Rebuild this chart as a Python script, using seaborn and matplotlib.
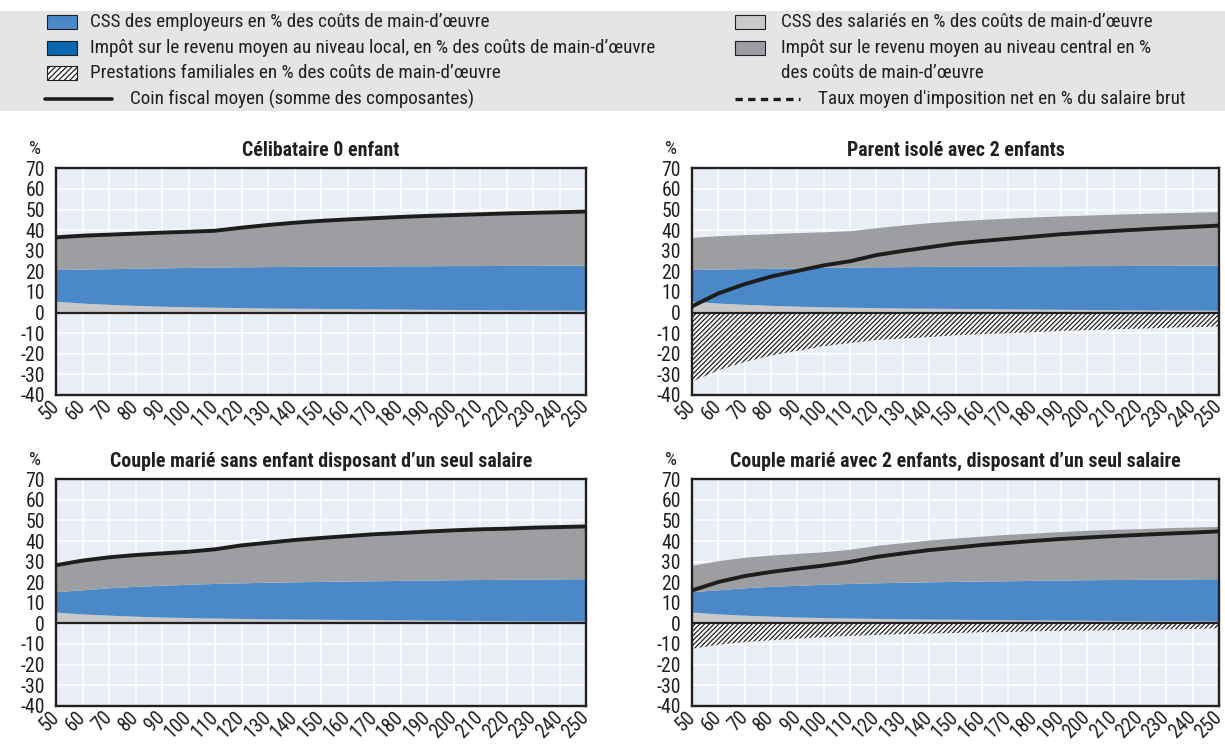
import numpy as np
import matplotlib
matplotlib.use("Agg")
import matplotlib.pyplot as plt
import seaborn as sns
from matplotlib import font_manager as fm
from matplotlib.patches import Rectangle
from matplotlib.lines import Line2D

# ---------------- data ----------------
salaire = [50, 60, 70, 80, 90, 100, 110, 120, 130, 140, 150, 160, 170, 180, 190, 200, 210, 220, 230, 240, 250]

# CSS des salariés (identique pour tous les ménages)
css_salaries = [5.5, 4.6, 4.0, 3.5, 3.1, 2.8, 2.6, 2.4, 2.2, 2.1, 2.0, 1.9, 1.8, 1.7, 1.6, 1.5, 1.4, 1.3, 1.2, 1.2, 1.1]

# Célibataire / parent isolé
css_employeurs_seul = [15.4, 16.5, 17.3, 18.0, 18.6, 19.1, 19.5, 19.8, 20.1, 20.3, 20.5, 20.7, 20.8, 21.0, 21.1, 21.3, 21.4, 21.6, 21.7, 21.8, 21.9]
impot_central_seul = [15.6, 16.2, 16.5, 16.8, 17.1, 17.3, 17.6, 19.0, 20.2, 21.2, 22.0, 22.6, 23.2, 23.7, 24.2, 24.5, 24.9, 25.2, 25.5, 25.7, 26.0]

# Couple marié (un seul salaire)
css_employeurs_couple = [9.9, 11.7, 13.3, 14.5, 15.4, 16.2, 16.8, 17.3, 17.8, 18.1, 18.4, 18.7, 18.9, 19.2, 19.4, 19.7, 19.9, 20.1, 20.3, 20.4, 20.6]
impot_central_couple = [12.9, 14.2, 14.8, 15.2, 15.5, 15.8, 16.6, 18.2, 19.2, 20.3, 21.1, 21.8, 22.6, 23.0, 23.6, 24.0, 24.4, 24.6, 25.0, 25.2, 25.4]

# Impôt local (nul)
impot_local = [0.0] * 21

# Prestations familiales
prest_zero = [0.0] * 21
prest_parent = [-33.5, -28.0, -24.0, -20.8, -18.6, -16.3, -14.8, -13.3, -12.6, -11.9, -11.0, -10.5, -10.0, -9.5, -8.9, -8.5, -8.1, -7.8, -7.4, -7.1, -6.8]
prest_couple_enf = [-12.3, -10.4, -9.1, -8.2, -7.4, -6.7, -6.1, -5.6, -5.2, -4.9, -4.7, -4.3, -4.2, -3.8, -3.6, -3.5, -3.3, -3.0, -2.9, -2.7, -2.4]

titres = ["Célibataire 0 enfant",
          "Parent isolé avec 2 enfants",
          "Couple marié sans enfant disposant d\u2019un seul salaire",
          "Couple marié avec 2 enfants, disposant d\u2019un seul salaire"]

legende_gauche = ["CSS des employeurs en % des coûts de main-d\u2019œuvre",
                  "Impôt sur le revenu moyen au niveau local, en % des coûts de main-d\u2019œuvre",
                  "Prestations familiales en % des coûts de main-d\u2019œuvre",
                  "Coin fiscal moyen (somme des composantes)"]
legende_droite = ["CSS des salariés en % des coûts de main-d\u2019œuvre",
                  "Impôt sur le revenu moyen au niveau central en %\ndes coûts de main-d\u2019œuvre",
                  "Taux moyen d'imposition net en % du salaire brut"]

panels = [
    (titres[0], css_employeurs_seul, impot_central_seul, prest_zero),
    (titres[1], css_employeurs_seul, impot_central_seul, prest_parent),
    (titres[2], css_employeurs_couple, impot_central_couple, prest_zero),
    (titres[3], css_employeurs_couple, impot_central_couple, prest_couple_enf),
]

# ---------------- style ----------------
C_LGRAY = "#c9c9c9"
C_BLUE = "#4a88c7"
C_DBLUE = "#0a68b1"
C_DGRAY = "#9d9ea2"
C_BG = "#e8edf6"
C_DARK = "#231f20"

sns.set_theme(style="white")

# choose a narrow font if one is installed
entries = [(f.name, str(f.stretch).lower()) for f in fm.fontManager.ttflist]
names = {n for n, _ in entries}
FAM, STRETCH, SCALE = ['DejaVu Sans'], 'normal', 0.80
for cand in ['Liberation Sans Narrow', 'Roboto Condensed', 'Noto Sans Condensed',
             'Open Sans Condensed', 'DejaVu Sans Condensed']:
    if cand in names:
        FAM, STRETCH, SCALE = [cand, 'DejaVu Sans'], 'normal', 1.0
        break
else:
    for fam in ['Roboto', 'Noto Sans', 'Open Sans', 'DejaVu Sans']:
        if any(n == fam and ('condensed' in s or s in ('300', '200', '100', 'semi-condensed'))
               for n, s in entries):
            FAM, STRETCH, SCALE = [fam, 'DejaVu Sans'], 'condensed', 1.0
            break

plt.rcParams['font.family'] = FAM
plt.rcParams['font.stretch'] = STRETCH
plt.rcParams['axes.unicode_minus'] = False
plt.rcParams['hatch.linewidth'] = 0.9
plt.rcParams['hatch.color'] = C_DARK

W, H = 1225, 745
fig = plt.figure(figsize=(W / 100, H / 100), dpi=100)

def fx(x):
    return x / W

def fy(y):
    return 1 - y / H

# axes positions (pixels)
cols = [(56, 586), (692, 1219)]
rows = [(168.3, 395), (479.3, 705.7)]

TICK_FS = 14.2 * SCALE
TITLE_FS = 14.3 * SCALE
LEG_FS = 13.8 * SCALE

x = np.array(salaire, dtype=float)
for i, (titre, emp, cen, prest) in enumerate(panels):
    r, c = divmod(i, 2)
    x0, x1 = cols[c]
    y0, y1 = rows[r]
    ax = fig.add_axes([fx(x0), fy(y1), (x1 - x0) / W, (y1 - y0) / H])
    ax.set_facecolor(C_BG)

    l1 = np.array(css_salaries)
    l2 = l1 + np.array(emp)
    l3 = l2 + np.array(impot_local)
    l4 = l3 + np.array(cen)
    pr = np.array(prest)

    ax.fill_between(x, 0, l1, color=C_LGRAY, lw=0, zorder=1)
    ax.fill_between(x, l1, l2, color=C_BLUE, lw=0, zorder=1)
    ax.fill_between(x, l2, l3, color=C_DBLUE, lw=0, zorder=1)
    ax.fill_between(x, l3, l4, color=C_DGRAY, lw=0, zorder=1)
    if np.any(pr != 0):
        ax.fill_between(x, pr, 0, facecolor="white", edgecolor=C_DARK,
                        hatch="///////", lw=0, zorder=1)

    total = l4 + pr
    sns.lineplot(x=x, y=total, ax=ax, color="#1d1d1b", linewidth=2.8, zorder=4)
    ax.axhline(0, color=C_DARK, lw=1.6, zorder=3)

    ax.set_xlim(50, 250)
    ax.set_ylim(-40, 70)
    ax.set_xticks(salaire)
    ax.set_yticks(range(-40, 71, 10))
    ax.set_axisbelow(True)
    ax.grid(True, color="white", lw=1.2)
    for s in ax.spines.values():
        s.set_color(C_DARK)
        s.set_linewidth(1.7)
    ax.tick_params(axis="both", direction="in", length=7, width=1.0,
                   color="#444444", labelsize=TICK_FS, labelcolor="#231f20")
    ax.tick_params(axis="y", pad=8)
    ax.tick_params(axis="x", pad=6)
    ax.set_xticklabels([str(v) for v in salaire], rotation=45, ha="right",
                       va="center", rotation_mode="anchor")
    ax.set_xlabel("")
    ax.set_ylabel("")
    ax.set_title(titre, fontsize=TITLE_FS, fontweight="bold", color=C_DARK, pad=9)
    fig.text(fx(x0 - 21), fy(y0 - 19), "%", fontsize=TICK_FS * 0.95, ha="center",
             va="center", color=C_DARK)

# ---------------- legend ----------------
fig.add_artist(Rectangle((0, fy(111)), 1, (111 - 11) / H, transform=fig.transFigure,
                         facecolor="#e5e5e5", edgecolor="none", zorder=0))

rows_y = [22, 48, 73, 99]
pw, ph = 30, 13

def patch(xp, yc, fc, hatch=None):
    fig.add_artist(Rectangle((fx(xp), fy(yc + ph / 2)), pw / W, ph / H,
                             transform=fig.transFigure, facecolor=fc,
                             edgecolor=C_DARK, lw=0.8, hatch=hatch, zorder=2))

patch(47, rows_y[0], C_BLUE)
patch(47, rows_y[1], C_DBLUE)
patch(47, rows_y[2], "white", hatch="//////")
fig.add_artist(Line2D([fx(45), fx(112)], [fy(rows_y[3]), fy(rows_y[3])],
                      transform=fig.transFigure, color="#1d1d1b", lw=2.6))
for k in range(3):
    fig.text(fx(90), fy(rows_y[k]), legende_gauche[k], fontsize=LEG_FS,
             va="center", ha="left", color=C_DARK)
fig.text(fx(130), fy(rows_y[3]), legende_gauche[3], fontsize=LEG_FS,
         va="center", ha="left", color=C_DARK)

patch(735, rows_y[0], C_LGRAY)
patch(735, rows_y[1], C_DGRAY)
fig.add_artist(Line2D([fx(735), fx(800)], [fy(rows_y[3]), fy(rows_y[3])],
                      transform=fig.transFigure, color="#1d1d1b", lw=2.4,
                      linestyle=(0, (2.2, 1.6))))
fig.text(fx(781), fy(rows_y[0]), legende_droite[0], fontsize=LEG_FS,
         va="center", ha="left", color=C_DARK)
fig.text(fx(781), fy(rows_y[1]), legende_droite[1].split("\n")[0], fontsize=LEG_FS,
         va="center", ha="left", color=C_DARK)
fig.text(fx(781), fy(rows_y[2]), legende_droite[1].split("\n")[1], fontsize=LEG_FS,
         va="center", ha="left", color=C_DARK)
fig.text(fx(818), fy(rows_y[3]), legende_droite[2], fontsize=LEG_FS,
         va="center", ha="left", color=C_DARK)

fig.savefig("out.png", dpi=100)
